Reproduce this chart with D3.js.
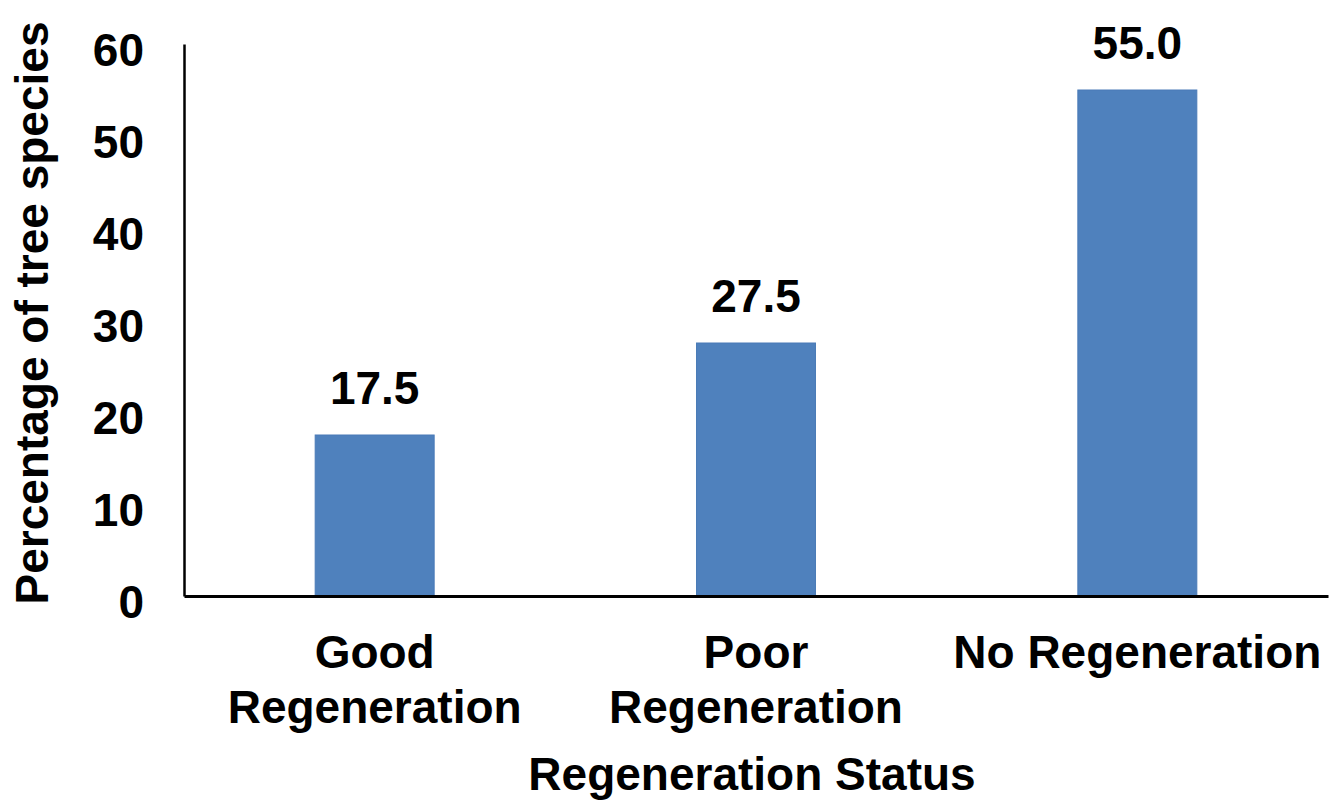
<!DOCTYPE html>
<html>
<head>
<meta charset="utf-8">
<script src="https://cdn.jsdelivr.net/npm/d3@7"></script>
<style>
  html, body { margin: 0; padding: 0; background: #fff; }
  svg { display: block; }
  text { font-family: "Liberation Sans", Arial, sans-serif; font-weight: bold; fill: #000; }
</style>
</head>
<body>
<svg id="chart" width="1336" height="800"></svg>
<script>
// Regeneration status of tree species
const categories = [["Good", "Regeneration"], ["Poor", "Regeneration"], ["No Regeneration"]];
const categoryKeys = ["Good Regeneration", "Poor Regeneration", "No Regeneration"];
const percentages = [17.5, 27.5, 55.0];
const yTicks = [0, 10, 20, 30, 40, 50, 60];
const yTitle = "Percentage of tree species";
const xTitle = "Regeneration Status";

const svg = d3.select("#chart");
const plotLeft = 184, plotRight = 1328, plotTop = 44, plotBottom = 596;

const x = d3.scaleBand()
  .domain(categoryKeys)
  .range([plotLeft, plotRight])
  .paddingInner(0.688)
  .paddingOuter(0.344);

const y = d3.scaleLinear().domain([0, 60]).range([plotBottom, plotTop]);

// bars
svg.append("g").selectAll("rect")
  .data(percentages)
  .join("rect")
  .attr("x", (d, i) => x(categoryKeys[i]))
  .attr("y", d => y(d))
  .attr("width", x.bandwidth())
  .attr("height", d => y(0) - y(d))
  .attr("fill", "#4f81bd")
  .attr("stroke", "#4a7bb7")
  .attr("stroke-width", 1);

// value labels
svg.append("g").selectAll("text")
  .data(percentages)
  .join("text")
  .attr("x", (d, i) => x(categoryKeys[i]) + x.bandwidth() / 2)
  .attr("y", d => y(d) - 31)
  .attr("text-anchor", "middle")
  .attr("font-size", 46)
  .text(d => d.toFixed(1));

// y axis
const yAxis = svg.append("g")
  .attr("transform", `translate(${plotLeft},0)`)
  .call(d3.axisLeft(y).tickValues(yTicks).tickSize(0).tickPadding(40).tickFormat(d3.format("d")));
yAxis.select(".domain").attr("stroke", "#000").attr("stroke-width", 2.5);
yAxis.selectAll(".tick text")
  .attr("font-size", 46)
  .attr("font-family", "'Liberation Sans', Arial, sans-serif")
  .attr("font-weight", "bold")
  .attr("fill", "#000")
  .attr("dy", "0.47em");

// x axis
const xAxis = svg.append("g")
  .attr("transform", `translate(0,${plotBottom})`)
  .call(d3.axisBottom(x).tickSize(0).tickFormat(""));
xAxis.select(".domain").attr("stroke", "#000").attr("stroke-width", 3);

// category labels (wrapped)
const catG = svg.append("g");
categories.forEach((lines, i) => {
  const cx = x(categoryKeys[i]) + x.bandwidth() / 2;
  const t = catG.append("text")
    .attr("x", cx)
    .attr("y", 668)
    .attr("text-anchor", "middle")
    .attr("font-size", 46);
  lines.forEach((line, j) => {
    t.append("tspan")
      .attr("x", cx)
      .attr("dy", j === 0 ? 0 : 55)
      .text(line);
  });
});

// axis titles
svg.append("text")
  .attr("x", (plotLeft + plotRight) / 2 - 4)
  .attr("y", 790)
  .attr("text-anchor", "middle")
  .attr("font-size", 46)
  .text(xTitle);

svg.append("text")
  .attr("transform", "translate(48,313) rotate(-90)")
  .attr("text-anchor", "middle")
  .attr("font-size", 46)
  .text(yTitle);
</script>
</body>
</html>
